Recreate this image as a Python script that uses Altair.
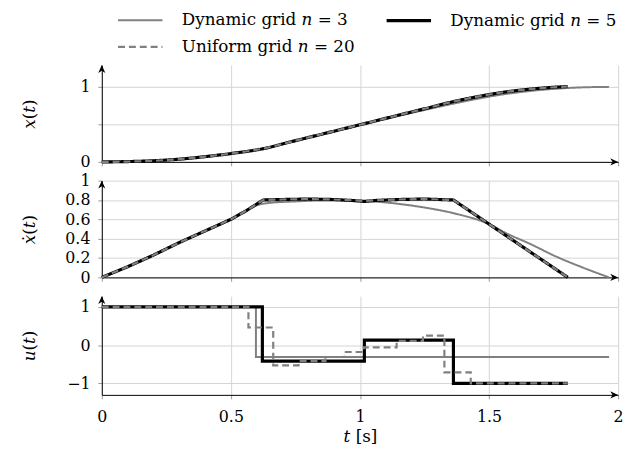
import altair as alt
import pandas as pd

FONT = "DejaVu Serif"

SERIES = ["Dynamic grid 𝑛 = 3", "Dynamic grid 𝑛 = 5", "Uniform grid 𝑛 = 20"]
COLORS = ["#808080", "#000000", "#808080"]
DASHES = [[1, 0], [1, 0], [7, 4]]
WIDTHS = [2.0, 3.2, 2.2]

# ---- x(t) ----
t_x5 = [0, 0.1, 0.2, 0.3, 0.4, 0.5, 0.626, 0.75, 0.875, 1.0, 1.125, 1.25, 1.36, 1.45, 1.55, 1.65, 1.73, 1.805]
x_5 = [0, 0.004, 0.015, 0.036, 0.07, 0.111, 0.177, 0.283, 0.389, 0.495, 0.602, 0.708, 0.802, 0.866, 0.925, 0.967, 0.99, 1.005]
t_x20 = [0, 0.1, 0.2, 0.3, 0.4, 0.5, 0.626, 0.75, 0.875, 1.0, 1.125, 1.25, 1.36, 1.45, 1.55, 1.65, 1.73, 1.805]
x_20 = [0, 0.004, 0.015, 0.036, 0.07, 0.111, 0.177, 0.283, 0.389, 0.495, 0.602, 0.708, 0.802, 0.866, 0.925, 0.967, 0.99, 1.005]
t_x3 = [0, 0.1, 0.2, 0.3, 0.4, 0.5, 0.626, 0.75, 0.875, 1.0, 1.125, 1.25, 1.36, 1.45, 1.55, 1.65, 1.75, 1.85, 1.965]
x_3 = [0, 0.004, 0.015, 0.036, 0.07, 0.111, 0.175, 0.278, 0.383, 0.49, 0.594, 0.692, 0.775, 0.838, 0.898, 0.942, 0.973, 0.992, 1.0]

# ---- xdot(t) ----
t_v5 = [0, 0.1, 0.2, 0.3, 0.4, 0.5, 0.56, 0.625, 0.7, 0.8, 0.9, 0.97, 1.017, 1.06, 1.15, 1.25, 1.362, 1.805]
v_5 = [0, 0.11, 0.23, 0.36, 0.48, 0.6, 0.69, 0.8, 0.805, 0.81, 0.805, 0.795, 0.785, 0.795, 0.805, 0.81, 0.8, 0]
t_v20 = [0, 0.1, 0.2, 0.3, 0.4, 0.5, 0.56, 0.625, 0.7, 0.8, 0.9, 0.97, 1.017, 1.06, 1.15, 1.25, 1.362, 1.805]
v_20 = [0, 0.11, 0.23, 0.36, 0.48, 0.6, 0.69, 0.8, 0.805, 0.81, 0.805, 0.797, 0.79, 0.797, 0.805, 0.81, 0.8, 0]
t_v3 = [0, 0.1, 0.2, 0.3, 0.4, 0.5, 0.55, 0.6, 0.65, 0.75, 0.85, 0.95, 1.05, 1.15, 1.25, 1.377, 1.5, 1.568, 1.66, 1.76, 1.86, 1.965]
v_3 = [0, 0.11, 0.23, 0.36, 0.48, 0.6, 0.68, 0.745, 0.77, 0.785, 0.795, 0.795, 0.785, 0.76, 0.722, 0.654, 0.551, 0.455, 0.345, 0.215, 0.105, 0]

# ---- u(t) (piecewise constant, value holds until next time) ----
t_u3 = [0, 0.597, 1.965]
u_3 = [1, -0.31, -0.31]
t_u5 = [0, 0.622, 1.017, 1.362, 1.805]
u_5 = [1, -0.42, 0.13, -1, -1]
t_u20 = [0, 0.568, 0.664, 0.762, 0.866, 0.94, 1.015, 1.142, 1.244, 1.327, 1.429, 1.805]
u_20 = [1, 0.46, -0.53, -0.42, -0.31, -0.18, -0.06, 0.11, 0.25, -0.71, -1, -1]

X_TICKS = [0, 0.5, 1, 1.5, 2]
Y1_TICKS = [0, 0.5, 1]
Y2_TICKS = [0, 0.2, 0.4, 0.6, 0.8, 1]
Y3_TICKS = [-1, 0, 1]

ARROW = "M0,0 L-2,-0.9 L-1.4,0 L-2,0.9 Z"
LEGEND_SYMBOL = "M-2.5,0 L2.5,0"

W = 523

xsc = alt.Scale(domain=[0, 2], nice=False, zero=False)
legend = alt.Legend(title=None, orient="none", legendX=28, legendY=-56, columns=2,
                    direction="horizontal",
                    symbolType=LEGEND_SYMBOL, symbolSize=324, labelFont=FONT, labelFontSize=17,
                    labelOffset=31, columnPadding=25, rowPadding=8, padding=0, labelLimit=0)
color = alt.Color("series:N", scale=alt.Scale(domain=SERIES, range=COLORS), legend=legend)
dash = alt.StrokeDash("series:N", scale=alt.Scale(domain=SERIES, range=DASHES), legend=legend)
width = alt.StrokeWidth("series:N", scale=alt.Scale(type="ordinal", domain=SERIES, range=WIDTHS), legend=legend)


def df(t, v, s):
    return pd.DataFrame({"t": t, "v": v, "series": s})


def panel(data, ydom, yticks, ytitle, bottom, H, label_expr=None, interps=None):
    ysc = alt.Scale(domain=ydom, nice=False, zero=False)
    yaxis_kw = dict(values=yticks, format="~g", title=ytitle, titleX=-73, titleY=H / 2,
                    titleAngle=270, titleAlign="center", titleBaseline="middle",
                    labelPadding=8, grid=True, labelOverlap=False, labelBound=False,
                    labelFlush=False)
    if label_expr:
        yaxis_kw["labelExpr"] = label_expr
    yaxis = alt.Axis(**yaxis_kw)
    if bottom:
        xaxis = alt.Axis(values=X_TICKS, format="~g", title="𝑡 [s]", labelPadding=10,
                         titlePadding=4, grid=True, labelOverlap=False, labelFlush=False)
    else:
        xaxis = alt.Axis(values=X_TICKS, labels=False, title=None, grid=True)
    layers = []
    for d, interp in zip(data, interps):
        layers.append(
            alt.Chart(d).mark_line(interpolate=interp, strokeCap="butt", strokeJoin="miter").encode(
                x=alt.X("t:Q", scale=xsc, axis=xaxis),
                y=alt.Y("v:Q", scale=ysc, axis=yaxis),
                color=color, strokeDash=dash, strokeWidth=width,
            )
        )
    one = pd.DataFrame({"k": [0]})
    xarrow = alt.Chart(one).mark_point(shape=ARROW, filled=True, size=64, color="black",
                                       opacity=1, strokeWidth=0).encode(
        x=alt.XDatum(2, scale=xsc, axis=xaxis), y=alt.YDatum(ydom[0], scale=ysc, axis=yaxis))
    yarrow = alt.Chart(one).mark_point(shape=ARROW, filled=True, size=64, color="black",
                                       opacity=1, strokeWidth=0, angle=270).encode(
        x=alt.XDatum(0, scale=xsc, axis=xaxis), y=alt.YDatum(ydom[1], scale=ysc, axis=yaxis))
    layers += [xarrow, yarrow]
    return alt.layer(*layers).properties(width=W, height=H)


p1 = panel([df(t_x3, x_3, SERIES[0]), df(t_x5, x_5, SERIES[1]), df(t_x20, x_20, SERIES[2])],
           [0, 1.29], Y1_TICKS, "𝑥(𝑡)", False, 98,
           label_expr="datum.value == 0.5 ? '' : datum.label",
           interps=["monotone", "monotone", "monotone"])
p2 = panel([df(t_v3, v_3, SERIES[0]), df(t_v5, v_5, SERIES[1]), df(t_v20, v_20, SERIES[2])],
           [0, 1.0], Y2_TICKS, "𝑥̇(𝑡)", False, 98,
           interps=["monotone", "linear", "linear"])
p3 = panel([df(t_u3, u_3, SERIES[0]), df(t_u5, u_5, SERIES[1]), df(t_u20, u_20, SERIES[2])],
           [-1.3, 1.28], Y3_TICKS, "𝑢(𝑡)", True, 100,
           interps=["step-after", "step-after", "step-after"])

chart = alt.vconcat(p1, p2, p3, spacing=19, bounds="flush").resolve_scale(
    color="shared", strokeDash="shared", strokeWidth="shared"
).configure(
    padding={"left": 13, "top": -1, "right": 5, "bottom": 5}
).configure_view(stroke=None).configure_axis(
    labelFont=FONT, titleFont=FONT, labelFontSize=16, titleFontSize=17,
    labelColor="black", titleColor="black", titleFontWeight="normal",
    gridColor="#d4d4d4", gridWidth=1, domainColor="black", domainWidth=1,
    tickColor="#999999", tickSize=4,
)

chart.save("out.html", embed_options={"renderer": "svg", "actions": False})
